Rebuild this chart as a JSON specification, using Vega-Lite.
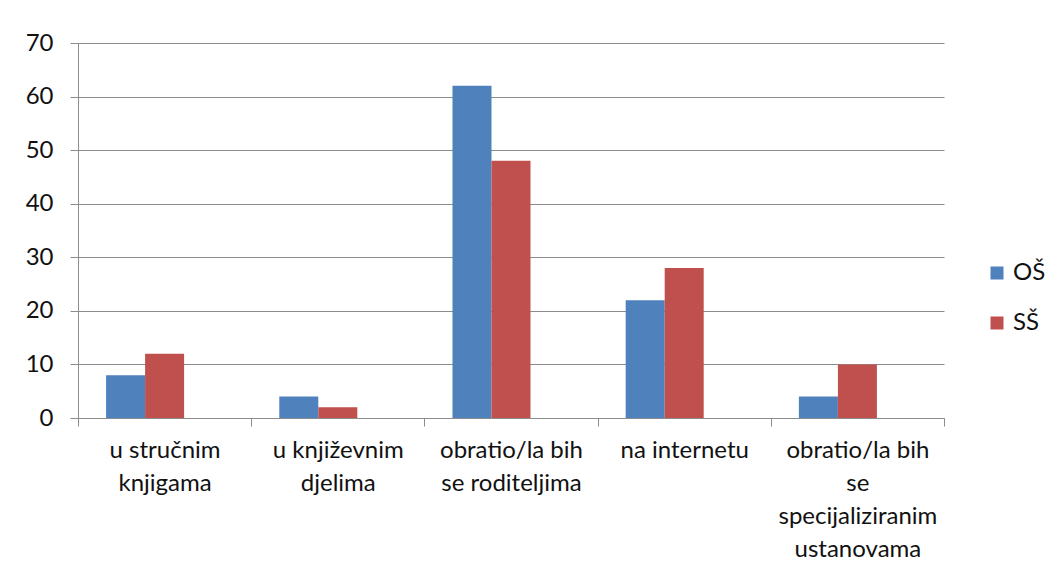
{
  "$schema": "https://vega.github.io/schema/vega-lite/v6.json",
  "autosize": {"type": "none"},
  "padding": {"left": 78, "top": 43, "right": 106, "bottom": 158},
  "width": 866,
  "height": 375,
  "background": "white",
  "config": {
    "font": "Lato",
    "view": {"stroke": null}
  },
  "data": {
    "values": [
      {"kategorija": "u stručnim knjigama", "skola": "OŠ", "vrijednost": 8},
      {"kategorija": "u stručnim knjigama", "skola": "SŠ", "vrijednost": 12},
      {"kategorija": "u književnim djelima", "skola": "OŠ", "vrijednost": 4},
      {"kategorija": "u književnim djelima", "skola": "SŠ", "vrijednost": 2},
      {"kategorija": "obratio/la bih se roditeljima", "skola": "OŠ", "vrijednost": 62},
      {"kategorija": "obratio/la bih se roditeljima", "skola": "SŠ", "vrijednost": 48},
      {"kategorija": "na internetu", "skola": "OŠ", "vrijednost": 22},
      {"kategorija": "na internetu", "skola": "SŠ", "vrijednost": 28},
      {"kategorija": "obratio/la bih se specijaliziranim ustanovama", "skola": "OŠ", "vrijednost": 4},
      {"kategorija": "obratio/la bih se specijaliziranim ustanovama", "skola": "SŠ", "vrijednost": 10}
    ]
  },
  "mark": {"type": "bar"},
  "encoding": {
    "x": {
      "field": "kategorija",
      "type": "nominal",
      "sort": null,
      "scale": {"paddingInner": 0, "paddingOuter": 0},
      "axis": {
        "title": null,
        "labelAngle": 0,
        "labelFont": "Lato",
        "labelFontSize": 24,
        "labelColor": "#111111",
        "domainColor": "#8c8c8c",
        "tickColor": "#8c8c8c",
        "tickBand": "extent",
        "tickSize": 8,
        "labelPadding": 12,
        "labelLineHeight": 33,
        "labelBaseline": "top",
        "labelLimit": 0,
        "labelExpr": "datum.value == 'u stručnim knjigama' ? ['u stručnim', 'knjigama'] : datum.value == 'u književnim djelima' ? ['u književnim', 'djelima'] : datum.value == 'obratio/la bih se roditeljima' ? ['obratio/la bih', 'se roditeljima'] : datum.value == 'obratio/la bih se specijaliziranim ustanovama' ? ['obratio/la bih', 'se', 'specijaliziranim', 'ustanovama'] : datum.value"
      }
    },
    "xOffset": {
      "field": "skola",
      "type": "nominal",
      "scale": {"domain": ["OŠ", "SŠ", "-"], "paddingInner": 0, "paddingOuter": 0.72}
    },
    "y": {
      "field": "vrijednost",
      "type": "quantitative",
      "scale": {"domain": [0, 70]},
      "axis": {
        "title": null,
        "values": [0, 10, 20, 30, 40, 50, 60, 70],
        "labelFont": "Lato",
        "labelFontSize": 24,
        "labelColor": "#111111",
        "domainColor": "#8c8c8c",
        "tickColor": "#8c8c8c",
        "gridColor": "#8c8c8c",
        "tickSize": 8,
        "labelPadding": 17,
        "grid": true,
        "domain": true
      }
    },
    "color": {
      "field": "skola",
      "type": "nominal",
      "scale": {"domain": ["OŠ", "SŠ"], "range": ["#4F81BD", "#C0504D"]},
      "legend": {
        "title": null,
        "orient": "none",
        "legendX": 907,
        "legendY": 218,
        "symbolType": "square",
        "symbolSize": 169,
        "symbolStrokeWidth": 0,
        "labelFontSize": 24,
        "labelFont": "Lato",
        "labelColor": "#111111",
        "labelOffset": 4,
        "rowPadding": 26
      }
    }
  }
}
